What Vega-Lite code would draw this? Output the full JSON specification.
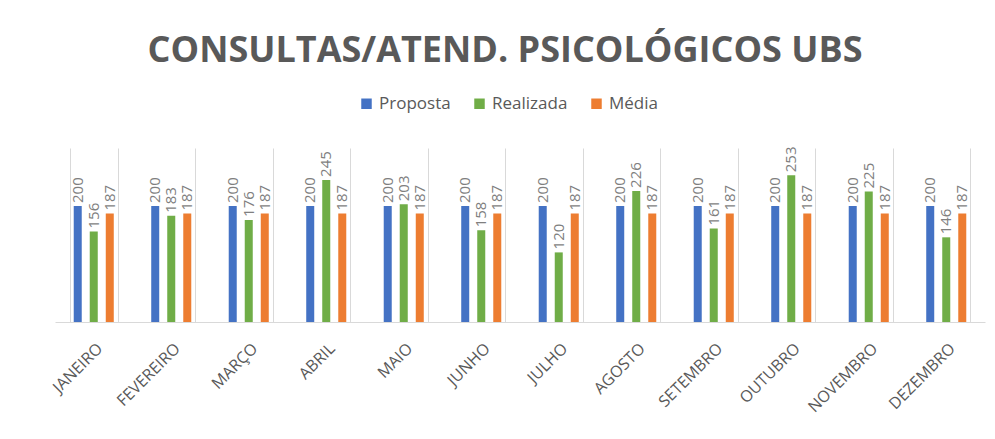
{
  "$schema": "https://vega.github.io/schema/vega-lite/v6.json",
  "width": 930,
  "height": 174,
  "autosize": {"type": "none"},
  "padding": {"left": 55, "top": 148, "right": 10, "bottom": 117},
  "background": "white",
  "title": {
    "text": "CONSULTAS/ATEND. PSICOLÓGICOS UBS",
    "font": "Open Sans",
    "fontSize": 36,
    "fontWeight": "bold",
    "color": "#595959",
    "anchor": "middle",
    "dx": -15,
    "offset": 25
  },
  "data": {
    "values": [
      {"mes": "JANEIRO", "serie": "Proposta", "valor": 200},
      {"mes": "JANEIRO", "serie": "Realizada", "valor": 156},
      {"mes": "JANEIRO", "serie": "Média", "valor": 187},
      {"mes": "FEVEREIRO", "serie": "Proposta", "valor": 200},
      {"mes": "FEVEREIRO", "serie": "Realizada", "valor": 183},
      {"mes": "FEVEREIRO", "serie": "Média", "valor": 187},
      {"mes": "MARÇO", "serie": "Proposta", "valor": 200},
      {"mes": "MARÇO", "serie": "Realizada", "valor": 176},
      {"mes": "MARÇO", "serie": "Média", "valor": 187},
      {"mes": "ABRIL", "serie": "Proposta", "valor": 200},
      {"mes": "ABRIL", "serie": "Realizada", "valor": 245},
      {"mes": "ABRIL", "serie": "Média", "valor": 187},
      {"mes": "MAIO", "serie": "Proposta", "valor": 200},
      {"mes": "MAIO", "serie": "Realizada", "valor": 203},
      {"mes": "MAIO", "serie": "Média", "valor": 187},
      {"mes": "JUNHO", "serie": "Proposta", "valor": 200},
      {"mes": "JUNHO", "serie": "Realizada", "valor": 158},
      {"mes": "JUNHO", "serie": "Média", "valor": 187},
      {"mes": "JULHO", "serie": "Proposta", "valor": 200},
      {"mes": "JULHO", "serie": "Realizada", "valor": 120},
      {"mes": "JULHO", "serie": "Média", "valor": 187},
      {"mes": "AGOSTO", "serie": "Proposta", "valor": 200},
      {"mes": "AGOSTO", "serie": "Realizada", "valor": 226},
      {"mes": "AGOSTO", "serie": "Média", "valor": 187},
      {"mes": "SETEMBRO", "serie": "Proposta", "valor": 200},
      {"mes": "SETEMBRO", "serie": "Realizada", "valor": 161},
      {"mes": "SETEMBRO", "serie": "Média", "valor": 187},
      {"mes": "OUTUBRO", "serie": "Proposta", "valor": 200},
      {"mes": "OUTUBRO", "serie": "Realizada", "valor": 253},
      {"mes": "OUTUBRO", "serie": "Média", "valor": 187},
      {"mes": "NOVEMBRO", "serie": "Proposta", "valor": 200},
      {"mes": "NOVEMBRO", "serie": "Realizada", "valor": 225},
      {"mes": "NOVEMBRO", "serie": "Média", "valor": 187},
      {"mes": "DEZEMBRO", "serie": "Proposta", "valor": 200},
      {"mes": "DEZEMBRO", "serie": "Realizada", "valor": 146},
      {"mes": "DEZEMBRO", "serie": "Média", "valor": 187}
    ]
  },
  "encoding": {
    "x": {
      "field": "mes",
      "type": "nominal",
      "sort": null,
      "scale": {"paddingInner": 0.38, "paddingOuter": 0.19},
      "axis": {
        "title": null,
        "labelAngle": -45,
        "labelFont": "Open Sans",
        "labelFontSize": 16,
        "labelColor": "#595959",
        "labelPadding": 18,
        "ticks": false,
        "grid": true,
        "gridColor": "#d9d9d9",
        "gridWidth": 1,
        "tickBand": "extent",
        "domainColor": "#d9d9d9",
        "domainWidth": 1
      }
    },
    "xOffset": {
      "field": "serie",
      "type": "nominal",
      "sort": ["Proposta", "Realizada", "Média"],
      "scale": {"paddingInner": 0.5, "paddingOuter": 0.25}
    },
    "y": {
      "field": "valor",
      "type": "quantitative",
      "scale": {"domain": [0, 300]},
      "axis": null
    }
  },
  "layer": [
    {
      "mark": {"type": "bar"},
      "encoding": {
        "color": {
          "field": "serie",
          "type": "nominal",
          "sort": ["Proposta", "Realizada", "Média"],
          "scale": {"domain": ["Proposta", "Realizada", "Média"], "range": ["#4472C4", "#70AD47", "#ED7D31"]},
          "legend": {
            "title": null,
            "orient": "none",
            "legendX": 303,
            "legendY": -53,
            "direction": "horizontal",
            "symbolType": "square",
            "symbolSize": 110,
            "symbolStrokeWidth": 0,
            "labelFont": "Open Sans",
            "labelFontSize": 17,
            "labelColor": "#595959",
            "columnPadding": 20
          }
        }
      }
    },
    {
      "mark": {
        "type": "text",
        "angle": 270,
        "align": "left",
        "baseline": "middle",
        "dx": 3,
        "font": "Open Sans",
        "fontSize": 15,
        "color": "#7f7f7f"
      },
      "encoding": {
        "text": {"field": "valor", "type": "quantitative"}
      }
    }
  ],
  "config": {
    "view": {"stroke": null}
  }
}
